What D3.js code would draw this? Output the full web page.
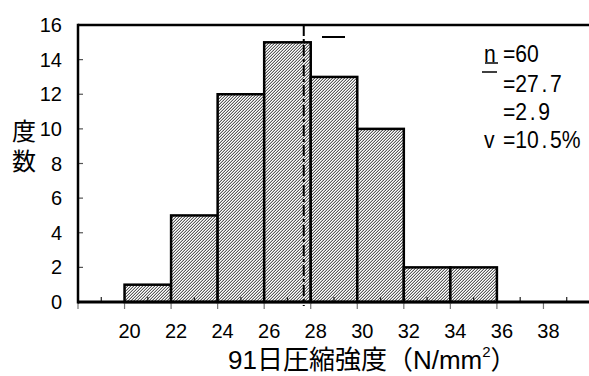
<!DOCTYPE html>
<html><head><meta charset="utf-8">
<script src="https://cdn.jsdelivr.net/npm/d3@7"></script>
<style>body{margin:0;background:#fff}</style>
</head><body>
<svg id="c" width="589" height="376"></svg>
<script>
const binStarts = [20, 22, 24, 26, 28, 30, 32, 34];
const binWidth = 2;
const counts = [1, 5, 12, 15, 13, 10, 2, 2];
const meanValue = 27.7;
const xTicks = [20, 22, 24, 26, 28, 30, 32, 34, 36, 38];
const yTicks = [0, 2, 4, 6, 8, 10, 12, 14, 16];
const legendLabels = ["n", "", "", "v"];
const legendValues = ["=60", "=27.7", "=2.9", "=10.5%"];
const xTitle = "91日圧縮強度（N/mm";
const yTitle = "度数";

const svg = d3.select("#c");
const x = d3.scaleLinear().domain([18, 40]).range([78, 590]);
const y = d3.scaleLinear().domain([0, 16]).range([302, 25]);
const latin = "'Liberation Sans',Arial,sans-serif";
const cjk = "'Liberation Sans','Noto Sans CJK JP',sans-serif";

const defs = svg.append("defs");
const pat = defs.append("pattern").attr("id", "hatch").attr("patternUnits", "userSpaceOnUse")
  .attr("width", 3).attr("height", 3);
pat.append("rect").attr("width", 3).attr("height", 3).attr("fill", "#fff");
[[0,2],[1,1],[2,0]].forEach(p => pat.append("rect").attr("x", p[0]).attr("y", p[1]).attr("width", 1).attr("height", 1).attr("fill", "#5a5a5a"));
[[0,1],[1,0],[2,2]].forEach(p => pat.append("rect").attr("x", p[0]).attr("y", p[1]).attr("width", 1).attr("height", 1).attr("fill", "#c4c4c4"));

// bars
svg.append("g").selectAll("rect").data(counts).join("rect")
  .attr("x", (d, i) => x(binStarts[i]))
  .attr("y", d => y(d))
  .attr("width", (d, i) => x(binStarts[i] + binWidth) - x(binStarts[i]))
  .attr("height", d => y(0) - y(d))
  .attr("fill", "url(#hatch)").attr("stroke", "#000").attr("stroke-width", 2.5);

// x minor ticks (upward) and major ticks (downward)
const minor = d3.range(19, 40, 2);
svg.append("g").selectAll("line").data(minor).join("line")
  .attr("x1", d => x(d)).attr("x2", d => x(d)).attr("y1", y(0)).attr("y2", y(0) - 5)
  .attr("stroke", "#222").attr("stroke-width", 1.2);
const major = d3.range(18, 41, 2);
svg.append("g").selectAll("line").data(major).join("line")
  .attr("x1", d => x(d)).attr("x2", d => x(d)).attr("y1", y(0)).attr("y2", y(0) + 7)
  .attr("stroke", "#777").attr("stroke-width", 1.2);
// y ticks inward
svg.append("g").selectAll("line").data(yTicks.slice(1, -1)).join("line")
  .attr("x1", x(18)).attr("x2", x(18) + 5).attr("y1", d => y(d)).attr("y2", d => y(d))
  .attr("stroke", "#555").attr("stroke-width", 1.2);

// mean line (dash-dot)
svg.append("line").attr("x1", x(meanValue)).attr("x2", x(meanValue))
  .attr("y1", y(16)).attr("y2", y(0) + 4)
  .attr("stroke", "#000").attr("stroke-width", 2).attr("stroke-dasharray", "11,3,3,3");

// frame
svg.append("line").attr("x1", x(18)).attr("x2", 589).attr("y1", y(0)).attr("y2", y(0)).attr("stroke", "#000").attr("stroke-width", 3);
svg.append("line").attr("x1", x(18)).attr("x2", 589).attr("y1", y(16)).attr("y2", y(16)).attr("stroke", "#000").attr("stroke-width", 2.5);
svg.append("line").attr("x1", x(18)).attr("x2", x(18)).attr("y1", y(16) - 1.2).attr("y2", y(0) + 1.5).attr("stroke", "#000").attr("stroke-width", 2.5);

// stray overline mark near mean
svg.append("line").attr("x1", 322).attr("x2", 345).attr("y1", 37).attr("y2", 37).attr("stroke", "#000").attr("stroke-width", 2);

// tick labels
svg.append("g").selectAll("text").data(xTicks).join("text")
  .attr("x", d => x(d) + 5).attr("y", 338).attr("text-anchor", "middle")
  .attr("font-family", latin).attr("font-size", 20).text(d => d);
svg.append("g").selectAll("text").data(yTicks).join("text")
  .attr("x", 62).attr("y", d => y(d) + 7).attr("text-anchor", "end")
  .attr("font-family", latin).attr("font-size", 20).text(d => d);

// axis titles
svg.append("text").attr("x", 24).attr("y", 119)
  .attr("writing-mode", "vertical-rl").attr("letter-spacing", 6)
  .attr("font-family", "'Noto Sans CJK JP',sans-serif").attr("font-size", 24).text(yTitle);
const xt = svg.append("text").attr("x", 228).attr("y", 369)
  .attr("font-family", cjk).attr("font-size", 26);
xt.append("tspan").text(xTitle);
xt.append("tspan").attr("font-size", 15).attr("dy", -12).text("2");
xt.append("tspan").attr("dy", 12).text("）");

// legend
const sx = 0.88;
const lg = svg.append("g").attr("font-family", latin).attr("font-size", 24)
  .attr("transform", `translate(484,0) scale(${sx},1)`);
legendValues.forEach((v, i) => {
  const by = [62, 92, 120, 148][i];
  if (legendLabels[i]) lg.append("text").attr("x", 0).attr("y", by).text(legendLabels[i]);
  const parts = v.split(".");
  const t = lg.append("text").attr("x", 19 / sx).attr("y", by);
  t.append("tspan").text(parts[0]);
  if (parts.length > 1) {
    t.append("tspan").attr("dx", 3).text(".");
    t.append("tspan").attr("dx", 3).text(parts[1]);
  }
});
svg.append("line").attr("x1", 485).attr("x2", 498).attr("y1", 63).attr("y2", 63).attr("stroke", "#000").attr("stroke-width", 1.5);
svg.append("line").attr("x1", 482).attr("x2", 497).attr("y1", 72).attr("y2", 72).attr("stroke", "#000").attr("stroke-width", 1.5);
</script>
</body></html>
